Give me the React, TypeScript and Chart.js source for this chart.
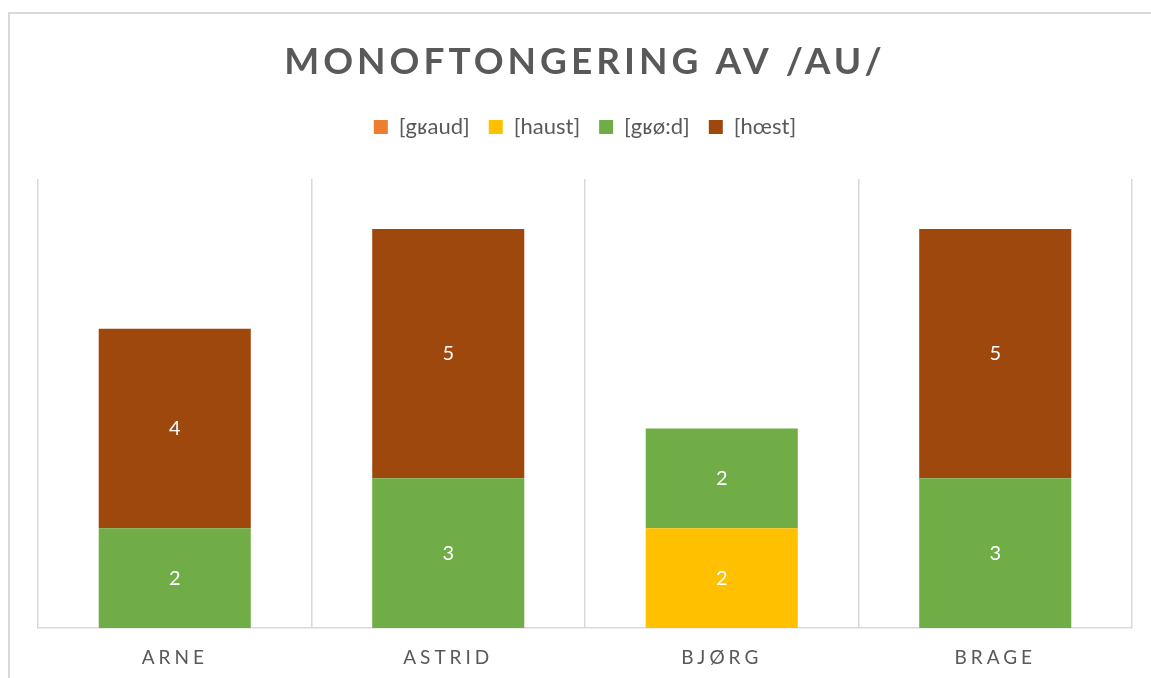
import React, { useEffect, useRef } from "react";
import { Chart, registerables } from "chart.js";

Chart.register(...registerables);

const categories = ["ARNE", "ASTRID", "BJØRG", "BRAGE"];
const seriesNames = ["[gʁaud]", "[haust]", "[gʁø:d]", "[hœst]"];
const graud = [0, 0, 0, 0];
const haust = [0, 0, 2, 0];
const grod = [2, 3, 2, 3];
const hoest = [4, 5, 0, 5];
const seriesColors = ["#ED7D31", "#FFC000", "#70AD47", "#9E480E"];
const titleText = "MONOFTONGERING AV /AU/";

const FONT = "Lato, 'Open Sans', sans-serif";
const GREY = "#595959";

const customPlugin = {
  id: "customTweaks",
  beforeLayout(chart: any) {
    const lg = chart.legend;
    if (lg && !lg._wrapped) {
      const f = lg.fit;
      lg.fit = function () {
        f.call(this);
        this.height += 31;
      };
      lg._wrapped = true;
    }
    const tb = chart.titleBlock;
    if (tb && !tb._wrapped) {
      const d = tb.draw;
      tb.draw = function () {
        const ctx = this.ctx;
        ctx.save();
        ctx.letterSpacing = "4px";
        d.call(this);
        ctx.restore();
      };
      tb._wrapped = true;
    }
    const xs = chart.scales.x;
    if (xs && !xs._wrapped) {
      const dl = xs.drawLabels;
      xs.drawLabels = function (area: any) {
        const ctx = this.ctx;
        ctx.save();
        ctx.letterSpacing = "4px";
        dl.call(this, area);
        ctx.restore();
      };
      xs._wrapped = true;
    }
  },
  afterDatasetsDraw(chart: any) {
    const ctx = chart.ctx;
    ctx.save();
    ctx.fillStyle = "#ffffff";
    ctx.font = `20px ${FONT}`;
    ctx.textAlign = "center";
    ctx.textBaseline = "middle";
    chart.data.datasets.forEach((ds: any, i: number) => {
      const meta = chart.getDatasetMeta(i);
      meta.data.forEach((bar: any, j: number) => {
        const v = ds.data[j];
        if (!v) return;
        const p = bar.getProps(["x", "y", "base"], true);
        ctx.fillText(String(v), p.x, (p.y + p.base) / 2);
      });
    });
    ctx.restore();
  },
};

export default function App() {
  const ref = useRef<HTMLCanvasElement>(null);
  useEffect(() => {
    document.body.style.overflow = "hidden";
    document.documentElement.style.overflow = "hidden";
    const series = [graud, haust, grod, hoest];
    const chart = new Chart(ref.current!, {
      type: "bar",
      data: {
        labels: categories,
        datasets: series.map((d, i) => ({
          label: seriesNames[i],
          data: d,
          backgroundColor: seriesColors[i],
          borderWidth: 0,
          categoryPercentage: 1,
          barPercentage: 0.556,
        })),
      },
      options: {
        animation: false,
        responsive: true,
        maintainAspectRatio: false,
        layout: { padding: { left: 38, right: 19, top: 0, bottom: 10 } },
        plugins: {
          title: {
            display: true,
            text: titleText,
            color: GREY,
            font: { family: FONT, size: 37, weight: "bold", lineHeight: 1 },
            padding: { top: 44, bottom: 16 },
          },
          legend: {
            display: true,
            position: "top",
            labels: {
              color: GREY,
              font: { family: FONT, size: 22 },
              boxWidth: 14,
              boxHeight: 14,
              padding: 19,
            },
          },
          tooltip: { enabled: false },
        },
        scales: {
          x: {
            stacked: true,
            offset: true,
            afterFit: (s: any) => {
              s.height = 40;
            },
            grid: {
              display: true,
              offset: true,
              color: "#d9d9d9",
              lineWidth: 1.5,
              drawTicks: false,
            },
            border: { display: true, color: "#d9d9d9", width: 1.5 },
            ticks: {
              color: GREY,
              font: { family: FONT, size: 19 },
              padding: 18,
            },
          },
          y: {
            stacked: true,
            display: false,
            min: 0,
            max: 9,
          },
        },
      },
      plugins: [customPlugin],
    });
    return () => chart.destroy();
  }, []);
  return (
    <div style={{ position: "fixed", left: 0, top: 0, width: 1151, height: 678, background: "#fff" }}>
      <div
        style={{
          position: "absolute",
          left: 8,
          top: 12,
          width: 1200,
          height: 720,
          border: "2px solid #d9d9d9",
          boxSizing: "border-box",
        }}
      />
      <div style={{ position: "absolute", left: 0, top: 0, width: 1151, height: 678 }}>
        <canvas ref={ref} />
      </div>
    </div>
  );
}
